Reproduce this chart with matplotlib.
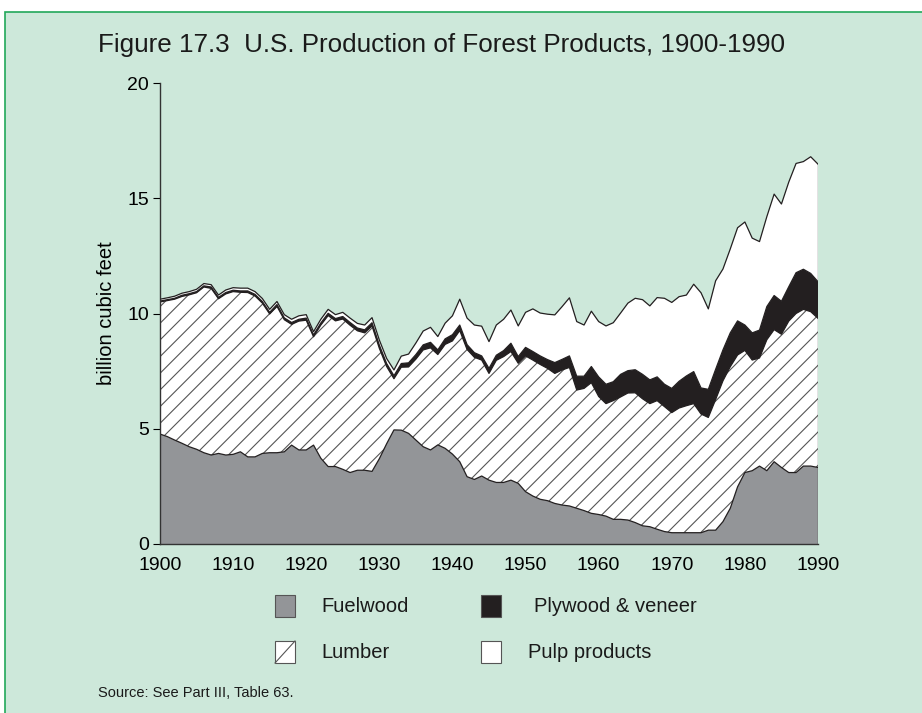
import numpy as np
import matplotlib
matplotlib.use('Agg')
import matplotlib.pyplot as plt
from matplotlib.patches import Rectangle
from matplotlib.lines import Line2D

####################################################################################################

years = np.arange(1900, 1991)

# billion cubic feet
fuelwood = [
    4.77, 4.66, 4.51, 4.37, 4.22, 4.11, 3.96, 3.86, 3.93, 3.86,
    3.89, 4.00, 3.78, 3.78, 3.93, 3.96, 3.96, 4.00, 4.29, 4.08,
    4.08, 4.29, 3.72, 3.36, 3.36, 3.24, 3.10, 3.20, 3.20, 3.15,
    3.70, 4.35, 4.95, 4.94, 4.80, 4.51, 4.22, 4.08, 4.30, 4.15,
    3.90, 3.57, 2.92, 2.80, 2.95, 2.77, 2.67, 2.67, 2.77, 2.63,
    2.27, 2.08, 1.94, 1.88, 1.76, 1.69, 1.65, 1.55, 1.45, 1.33,
    1.28, 1.21, 1.07, 1.07, 1.04, 0.93, 0.79, 0.75, 0.64, 0.54,
    0.49, 0.49, 0.49, 0.49, 0.49, 0.60, 0.60, 0.97, 1.55, 2.48,
    3.10, 3.18, 3.38, 3.18, 3.57, 3.32, 3.10, 3.10, 3.38, 3.38,
    3.32]

lumber = [
    5.73, 5.90, 6.11, 6.37, 6.59, 6.79, 7.19, 7.23, 6.71, 6.99,
    7.06, 6.92, 7.13, 6.98, 6.52, 6.02, 6.35, 5.73, 5.24, 5.59,
    5.63, 4.70, 5.78, 6.55, 6.32, 6.52, 6.39, 6.05, 5.96, 6.31,
    4.79, 3.35, 2.22, 2.73, 2.88, 3.51, 4.20, 4.43, 3.92, 4.51,
    4.91, 5.69, 5.52, 5.30, 5.03, 4.63, 5.30, 5.46, 5.58, 5.21,
    5.89, 5.90, 5.85, 5.74, 5.64, 5.86, 6.01, 5.13, 5.30, 5.67,
    5.12, 4.88, 5.15, 5.31, 5.51, 5.63, 5.51, 5.34, 5.58, 5.42,
    5.21, 5.41, 5.51, 5.60, 5.15, 4.89, 5.67, 6.11, 6.14, 5.72,
    5.30, 4.80, 4.69, 5.68, 5.73, 5.78, 6.57, 6.90, 6.80, 6.70,
    6.47]

plywood = [
    0.04, 0.04, 0.04, 0.05, 0.05, 0.05, 0.05, 0.06, 0.06, 0.06,
    0.06, 0.06, 0.07, 0.07, 0.07, 0.07, 0.08, 0.08, 0.08, 0.08,
    0.09, 0.08, 0.09, 0.10, 0.10, 0.11, 0.12, 0.12, 0.13, 0.14,
    0.14, 0.13, 0.13, 0.16, 0.18, 0.20, 0.22, 0.24, 0.20, 0.24,
    0.27, 0.24, 0.21, 0.20, 0.18, 0.22, 0.22, 0.26, 0.36, 0.29,
    0.37, 0.37, 0.37, 0.38, 0.47, 0.46, 0.50, 0.60, 0.53, 0.70,
    0.85, 0.84, 0.82, 0.98, 0.97, 1.00, 1.06, 1.03, 1.03, 0.97,
    1.05, 1.16, 1.29, 1.39, 1.13, 1.22, 1.31, 1.34, 1.47, 1.48,
    1.10, 1.18, 1.21, 1.44, 1.48, 1.43, 1.49, 1.77, 1.74, 1.66,
    1.59]

pulp = [
    0.08, 0.08, 0.09, 0.09, 0.09, 0.10, 0.10, 0.10, 0.10, 0.11,
    0.11, 0.12, 0.12, 0.12, 0.13, 0.13, 0.13, 0.14, 0.14, 0.15,
    0.15, 0.14, 0.16, 0.17, 0.17, 0.18, 0.19, 0.20, 0.21, 0.22,
    0.22, 0.22, 0.25, 0.32, 0.38, 0.50, 0.60, 0.65, 0.58, 0.68,
    0.82, 1.12, 1.15, 1.20, 1.29, 1.16, 1.31, 1.36, 1.44, 1.33,
    1.52, 1.85, 1.86, 1.97, 2.07, 2.29, 2.52, 2.37, 2.22, 2.40,
    2.40, 2.53, 2.56, 2.66, 2.93, 3.10, 3.24, 3.21, 3.44, 3.73,
    3.73, 3.67, 3.51, 3.79, 4.13, 3.49, 3.84, 3.51, 3.64, 4.04,
    4.47, 4.11, 3.84, 3.90, 4.40, 4.22, 4.54, 4.74, 4.67, 5.06,
    5.10]

y_ticks = [0, 5, 10, 15, 20]
x_ticks = list(range(1900, 2000, 10))

####################################################################################################

plt.rcParams['font.family'] = ['Liberation Sans', 'DejaVu Sans']
plt.rcParams['hatch.linewidth'] = 0.8

background = '#cde8da'
grey = '#939598'
black = '#231f20'

fig = plt.figure(figsize=(9.22, 7.13), dpi=100)
fig.patch.set_facecolor('white')

W, H = 922., 713.
def fx(px): return px / W
def fy(py): return 1 - py / H

# green frame, right/bottom sides run off the page
fig.add_artist(Rectangle((fx(5), -0.1), 1.2, fy(12) + 0.1, transform=fig.transFigure,
                         facecolor=background, edgecolor='#22a85a', linewidth=1.2, zorder=0))

ax = fig.add_axes([fx(160), fy(544), fx(818) - fx(160), fy(83) - fy(544)])
ax.set_facecolor('none')

c1 = np.array(fuelwood)
c2 = c1 + np.array(lumber)
c3 = c2 + np.array(plywood)
c4 = c3 + np.array(pulp)

ax.fill_between(years, 0, c1, facecolor=grey, edgecolor='none', zorder=2)
ax.fill_between(years, c1, c2, facecolor='white', edgecolor='#555555', hatch='//', linewidth=0, zorder=2)
ax.fill_between(years, c2, c3, facecolor=black, edgecolor='none', zorder=2)
ax.fill_between(years, c3, c4, facecolor='white', edgecolor='none', zorder=2)
for c in (c1, c2, c3, c4):
    ax.plot(years, c, color=black, linewidth=0.9, zorder=3)
ax.plot([years[-1], years[-1]], [0, c4[-1]], color=black, linewidth=0.9, zorder=3)

ax.set_xlim(1900, 1990)
ax.set_ylim(0, 20)
ax.set_xticks(x_ticks)
ax.set_yticks(y_ticks)
ax.tick_params(axis='x', length=0, pad=9, labelsize=14)
ax.tick_params(axis='y', length=5, width=0.8, direction='out', pad=3, labelsize=14)
for s in ('top', 'right'):
    ax.spines[s].set_visible(False)
for s in ('left', 'bottom'):
    ax.spines[s].set_linewidth(1.0)
    ax.spines[s].set_color('#333333')
    ax.spines[s].set_zorder(4)
ax.set_ylabel('billion cubic feet', fontsize=14.5, labelpad=8)

fig.text(fx(98), fy(45), 'Figure 17.3  U.S. Production of Forest Products, 1900-1990',
         fontsize=18.7, va='center', ha='left', color='#1a1a1a')

# legend
legend_items = [('Fuelwood', grey, False, 275, 606, 321),
                ('Plywood & veneer', black, False, 481, 606, 534),
                ('Lumber', 'white', True, 275, 652, 321),
                ('Pulp products', 'white', False, 481, 652, 528)]
for label, color, slash, bx, cy, tx in legend_items:
    fig.add_artist(Rectangle((fx(bx), fy(cy + 11)), fx(20), 22 / H, transform=fig.transFigure,
                             facecolor=color, edgecolor='#555555', linewidth=0.8))
    if slash:
        fig.add_artist(Line2D([fx(bx), fx(bx + 20)], [fy(cy + 11), fy(cy - 11)],
                              transform=fig.transFigure, color='#555555', linewidth=0.8))
    fig.text(fx(tx), fy(cy), label, fontsize=14.5, va='center', ha='left', color='#1a1a1a')

fig.text(fx(98), fy(693), 'Source: See Part III, Table 63.', fontsize=10.5, va='center', ha='left',
         color='#1a1a1a')

fig.savefig('out.png', dpi=100, facecolor=fig.get_facecolor())
